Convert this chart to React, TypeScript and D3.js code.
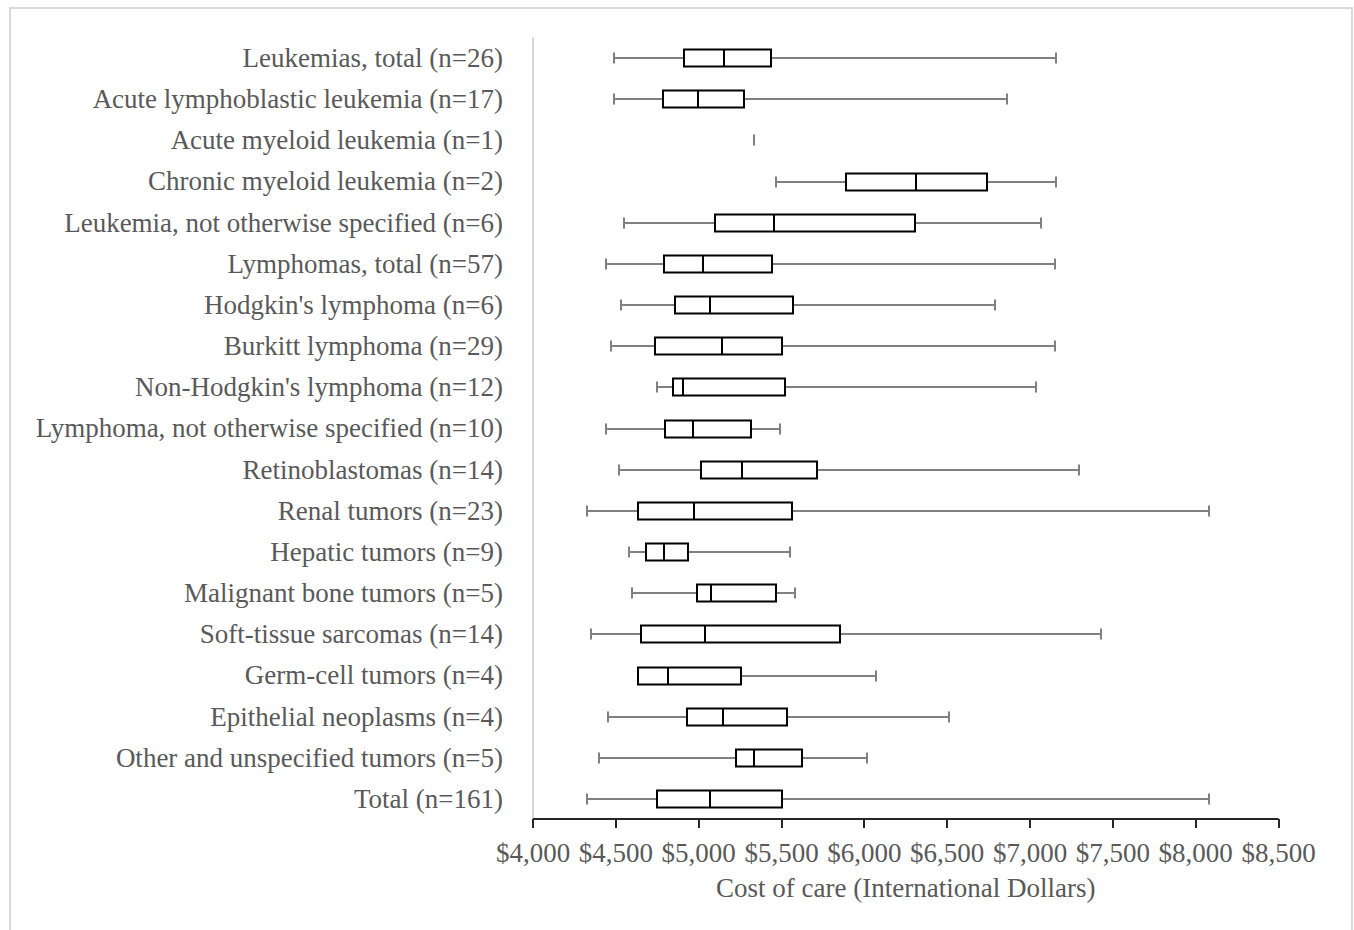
import React, { useEffect, useRef } from 'react';
import * as d3 from 'd3';

const categories = [
  'Leukemias, total (n=26)',
  'Acute lymphoblastic leukemia (n=17)',
  'Acute myeloid leukemia (n=1)',
  'Chronic myeloid leukemia (n=2)',
  'Leukemia, not otherwise specified (n=6)',
  'Lymphomas, total (n=57)',
  "Hodgkin's lymphoma (n=6)",
  'Burkitt lymphoma (n=29)',
  "Non-Hodgkin's lymphoma (n=12)",
  'Lymphoma, not otherwise specified (n=10)',
  'Retinoblastomas (n=14)',
  'Renal tumors (n=23)',
  'Hepatic tumors (n=9)',
  'Malignant bone tumors (n=5)',
  'Soft-tissue sarcomas (n=14)',
  'Germ-cell tumors (n=4)',
  'Epithelial neoplasms (n=4)',
  'Other and unspecified tumors (n=5)',
  'Total (n=161)',
];

const mins = [4487, 4487, 5333, 5467, 4547, 4443, 4529, 4473, 4747, 4443, 4520, 4328, 4582, 4598, 4353, 4636, 4455, 4401, 4328];
const q1s = [4909, 4786, 5333, 5889, 5096, 4788, 4857, 4736, 4844, 4797, 5013, 4636, 4684, 4989, 4654, 4636, 4927, 5228, 4746];
const medians = [5152, 4995, 5333, 6314, 5456, 5027, 5066, 5140, 4905, 4967, 5261, 4972, 4789, 5072, 5040, 4814, 5147, 5331, 5067];
const q3s = [5435, 5275, 5333, 6739, 6308, 5443, 5569, 5504, 5523, 5314, 5714, 5563, 4937, 5469, 5851, 5258, 5533, 5622, 5501];
const maxs = [7159, 6864, 5333, 7159, 7069, 7151, 6789, 7151, 7036, 5489, 7293, 8079, 5549, 5584, 7427, 6069, 6514, 6018, 8079];

const ticks = [4000, 4500, 5000, 5500, 6000, 6500, 7000, 7500, 8000, 8500];

const App = () => {
  const ref = useRef<SVGSVGElement>(null);

  useEffect(() => {
    const svg = d3.select(ref.current);
    svg.selectAll('*').remove();

    const font = 'Liberation Serif, Times New Roman, serif';
    const textColor = '#595959';
    const fontSize = 27;

    const x = d3.scaleLinear().domain([4000, 8500]).range([533, 1278.5]);
    const y = d3.scalePoint().domain(categories).range([58, 799]);

    const boxH = 17;
    const capH = 11;

    // frame
    svg.append('rect')
      .attr('x', 10).attr('y', 8).attr('width', 1342).attr('height', 940)
      .attr('fill', 'white').attr('stroke', '#d9d9d9').attr('stroke-width', 2);

    // vertical category axis
    svg.append('line')
      .attr('x1', 533).attr('x2', 533).attr('y1', 37).attr('y2', 819)
      .attr('stroke', '#d9d9d9').attr('stroke-width', 2);

    // category labels
    svg.append('g').selectAll('text').data(categories).enter()
      .append('text')
      .attr('x', 503)
      .attr('y', (d) => y(d)!)
      .attr('dy', '0.33em')
      .attr('text-anchor', 'end')
      .attr('font-family', font)
      .attr('font-size', fontSize)
      .attr('fill', textColor)
      .text((d) => d);

    const rows = categories.map((c, i) => ({
      c, min: mins[i], q1: q1s[i], med: medians[i], q3: q3s[i], max: maxs[i],
    }));

    const px = (v: number) => Math.round(x(v));
    const g = svg.append('g');
    rows.forEach((r) => {
      const cy = Math.round(y(r.c)!);
      const whisker = '#808080';
      if (r.q1 === r.q3) {
        g.append('line')
          .attr('x1', px(r.med)).attr('x2', px(r.med))
          .attr('y1', cy - capH / 2).attr('y2', cy + capH / 2)
          .attr('stroke', whisker).attr('stroke-width', 2);
        return;
      }
      // whiskers
      if (r.min < r.q1) {
        g.append('line')
          .attr('x1', px(r.min)).attr('x2', px(r.q1)).attr('y1', cy).attr('y2', cy)
          .attr('stroke', whisker).attr('stroke-width', 2);
      }
      g.append('line')
        .attr('x1', px(r.min)).attr('x2', px(r.min))
        .attr('y1', cy - capH / 2).attr('y2', cy + capH / 2)
        .attr('stroke', whisker).attr('stroke-width', 2);
      g.append('line')
        .attr('x1', px(r.q3)).attr('x2', px(r.max)).attr('y1', cy).attr('y2', cy)
        .attr('stroke', whisker).attr('stroke-width', 2);
      g.append('line')
        .attr('x1', px(r.max)).attr('x2', px(r.max))
        .attr('y1', cy - capH / 2).attr('y2', cy + capH / 2)
        .attr('stroke', whisker).attr('stroke-width', 2);
      // box
      g.append('rect')
        .attr('x', px(r.q1)).attr('y', cy - boxH / 2)
        .attr('width', px(r.q3) - px(r.q1)).attr('height', boxH)
        .attr('fill', 'white').attr('stroke', '#000').attr('stroke-width', 2);
      g.append('line')
        .attr('x1', px(r.med)).attr('x2', px(r.med))
        .attr('y1', cy - boxH / 2).attr('y2', cy + boxH / 2)
        .attr('stroke', '#000').attr('stroke-width', 2);
    });

    // x axis
    const axis = svg.append('g').attr('transform', 'translate(0,819)');
    axis.append('line')
      .attr('x1', x(4000)).attr('x2', x(8500))
      .attr('stroke', '#262626').attr('stroke-width', 2);
    axis.selectAll('.tick').data(ticks).enter()
      .append('line')
      .attr('x1', (d) => px(d)).attr('x2', (d) => px(d))
      .attr('y1', 0).attr('y2', 9)
      .attr('stroke', '#262626').attr('stroke-width', 2);
    const fmt = d3.format('$,');
    axis.selectAll('.lbl').data(ticks).enter()
      .append('text')
      .attr('x', (d) => x(d))
      .attr('y', 43)
      .attr('text-anchor', 'middle')
      .attr('font-family', font)
      .attr('font-size', fontSize)
      .attr('fill', textColor)
      .text((d) => fmt(d));

    svg.append('text')
      .attr('x', (x(4000) + x(8500)) / 2)
      .attr('y', 897)
      .attr('text-anchor', 'middle')
      .attr('font-family', font)
      .attr('font-size', fontSize)
      .attr('fill', textColor)
      .text('Cost of care (International Dollars)');
  }, []);

  return (
    <div style={{ position: 'absolute', left: 0, top: 0 }}>
      <svg ref={ref} width={1354} height={930} style={{ display: 'block' }} />
    </div>
  );
};

export default App;
